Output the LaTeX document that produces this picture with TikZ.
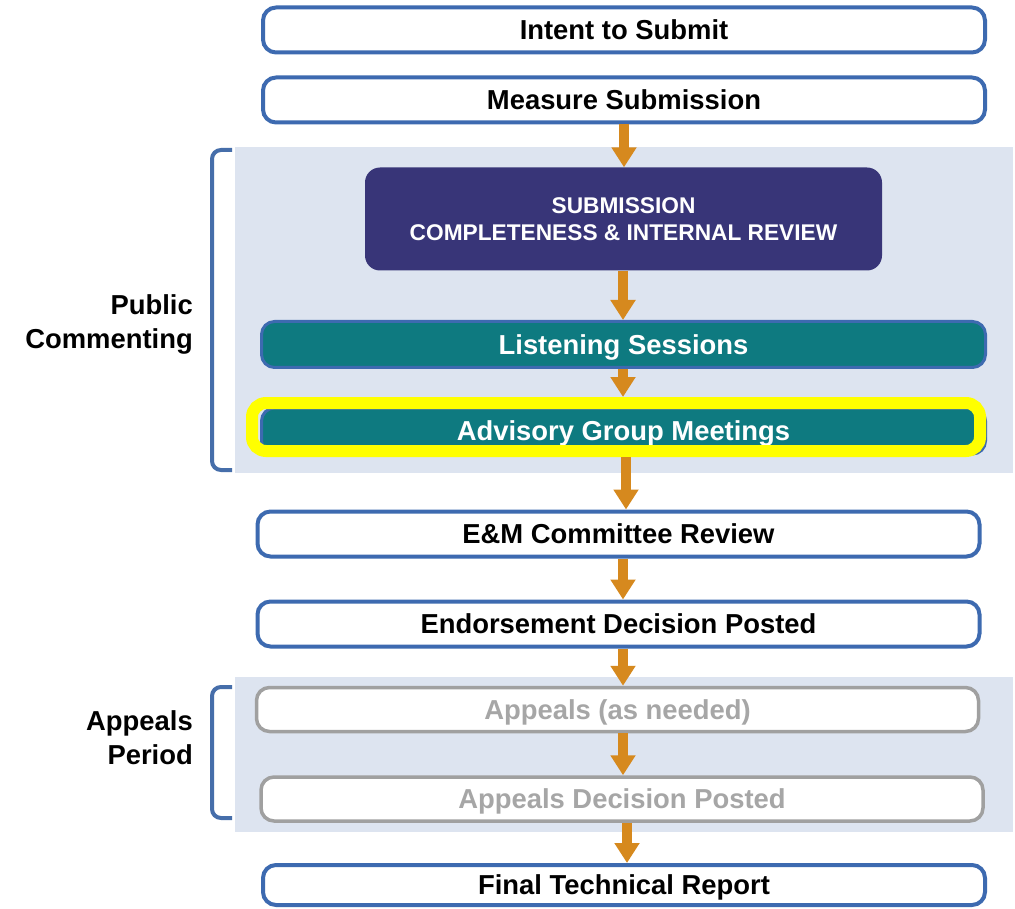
\documentclass[tikz,border=0pt]{standalone}
\usepackage{fontspec}
\setmainfont{Liberation Sans}
\usetikzlibrary{arrows.meta}

\definecolor{frameblue}{RGB}{61,106,176}
\definecolor{bracketblue}{RGB}{70,110,170}
\definecolor{bandblue}{RGB}{221,228,240}
\definecolor{navyfill}{RGB}{56,53,120}
\definecolor{tealfill}{RGB}{14,122,128}
\definecolor{flowor}{RGB}{214,137,30}
\definecolor{hlyellow}{RGB}{255,255,0}
\definecolor{greyframe}{RGB}{160,160,160}
\definecolor{greytext}{RGB}{166,166,166}

\tikzset{
  boxtext/.style={font=\bfseries\fontsize{27.4}{33}\selectfont, text height=19.6pt, text depth=0pt, inner sep=0pt},
  whitebox/.style={boxtext, draw=frameblue, line width=4pt, fill=white, rounded corners=13pt,
                   minimum width=722pt, minimum height=45pt, text=black},
  greybox/.style={boxtext, draw=greyframe, line width=3.5pt, fill=white, rounded corners=13pt,
                  minimum width=722pt, minimum height=44pt, text=greytext},
  tealbox/.style={boxtext, draw=frameblue, line width=3pt, fill=tealfill, rounded corners=13pt,
                  minimum width=724pt, minimum height=46pt, text=white},
  navybox/.style={font=\bfseries\fontsize{22.7}{27}\selectfont, align=center, fill=navyfill, text=white,
                  rounded corners=15pt, minimum width=517pt, minimum height=103pt, inner sep=0pt},
  hlbox/.style={draw=hlyellow, line width=12pt, rounded corners=14pt, minimum width=728pt,
                minimum height=48pt, inner sep=0pt},
  sidelabel/.style={font=\bfseries\fontsize{27.4}{34}\selectfont, align=right, inner sep=0pt, anchor=east},
  bracket/.style={draw=bracketblue, line width=4pt, rounded corners=9pt},
  flow/.style={draw=flowor, line width=10pt, -{Triangle[width=24pt,length=20pt]}},
}

\begin{document}
\begin{tikzpicture}[x=1pt,y=-1pt]
  \fill[white] (0,0) rectangle (1015,909);
  \useasboundingbox (0,0) rectangle (1015,909);

  % shaded phase bands
  \fill[bandblue] (235,147) rectangle (1013,473);
  \fill[bandblue] (235,677) rectangle (1013,832);

  % phase brackets
  \draw[bracket] (232,150) -- (212,150) -- (212,470) -- (232,470);
  \draw[bracket] (232,687) -- (212,687) -- (212,818) -- (232,818);

  % phase labels
  \node[sidelabel] (pub) at (193,324) {Public\\Commenting};
  \node[sidelabel] (apl) at (193,737.5) {Appeals\\Period};

  % process steps
  \node[whitebox] (intent)  at (624,30)    {Intent to Submit};
  \node[whitebox] (measure) at (624,100)   {Measure Submission};
  \node[navybox]  (subm)    at (623.5,219) {SUBMISSION\\COMPLETENESS \& INTERNAL REVIEW};
  \node[tealbox]  (listen)  at (623.5,344.5) {Listening Sessions};
  \node[tealbox]  (advis)   at (623.5,431) {Advisory Group Meetings};
  \node[hlbox]    (hl)      at (616,427)   {};
  \node[whitebox] (emc)     at (618.5,534) {E\&M Committee Review};
  \node[whitebox] (endo)    at (618.5,624) {Endorsement Decision Posted};
  \node[greybox]  (app)     at (617.5,709.5) {Appeals (as needed)};
  \node[greybox]  (appdec)  at (622,799)   {Appeals Decision Posted};
  \node[whitebox, minimum height=40pt] (final) at (624,885) {Final Technical Report};

  % flow arrows
  \draw[flow] (measure.south) -- (measure.south |- subm.north);
  \draw[flow] ([xshift=-0.5pt]subm.south) -- ([xshift=-0.5pt]subm.south |- listen.north);
  \draw[flow] ([xshift=-0.5pt]listen.south) -- ([xshift=-0.5pt]listen.south |- hl.north);
  \draw[flow] ([xshift=10pt]hl.south) -- ([xshift=10pt]hl.south |- emc.north);
  \draw[flow] ([xshift=4.5pt]emc.south) -- ([xshift=4.5pt]emc.south |- endo.north);
  \draw[flow] ([xshift=4.5pt]endo.south) -- ([xshift=4.5pt]endo.south |- app.north);
  \draw[flow] ([xshift=5.5pt]app.south) -- ([xshift=5.5pt]app.south |- appdec.north);
  \draw[flow] ([xshift=5pt]appdec.south) -- ([xshift=5pt]appdec.south |- final.north);
\end{tikzpicture}
\end{document}
